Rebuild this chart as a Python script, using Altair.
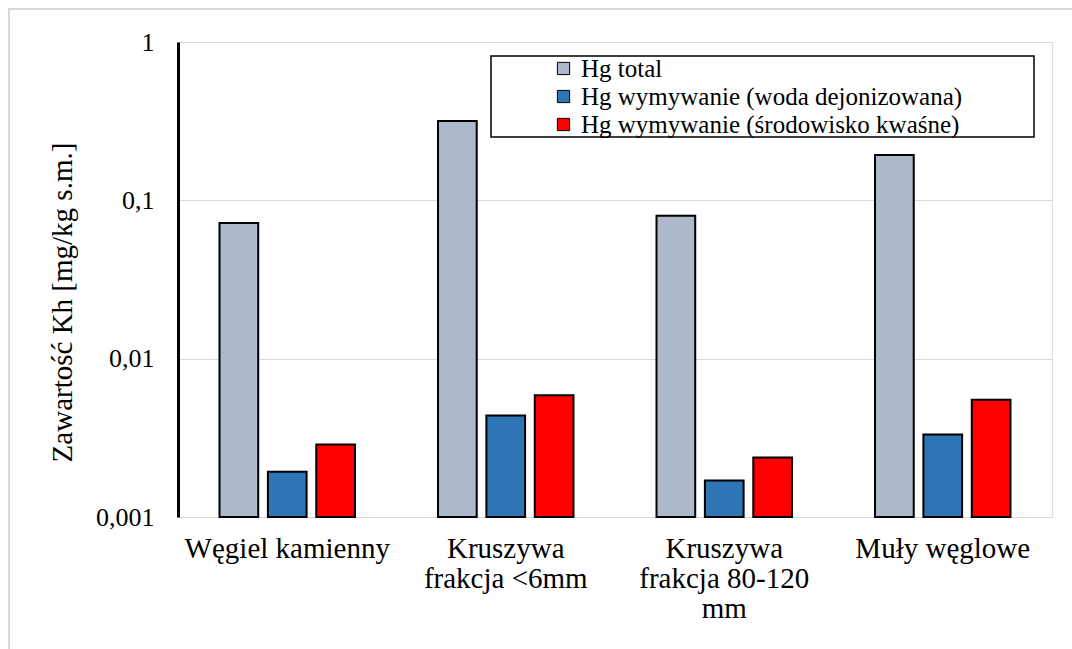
import altair as alt
import pandas as pd

# Categories (line breaks mark wrapped axis labels) and series
categories = [
    "Węgiel kamienny",
    "Kruszywa\nfrakcja <6mm",
    "Kruszywa\nfrakcja 80-120\nmm",
    "Muły węglowe",
]
series = [
    "Hg total",
    "Hg wymywanie (woda dejonizowana)",
    "Hg wymywanie (środowisko kwaśne)",
]
hg_total = [0.0718, 0.3175, 0.0798, 0.1936]
hg_water = [0.00193, 0.00437, 0.00170, 0.00332]
hg_acid = [0.00287, 0.00587, 0.00238, 0.00551]
colors = ["#ADB9CA", "#2E75B6", "#FF0000"]
y_ticks = [0.001, 0.01, 0.1, 1]

rows = []
for name, vals in zip(series, [hg_total, hg_water, hg_acid]):
    for cat, v in zip(categories, vals):
        rows.append({"kategoria": cat, "seria": name, "wartosc": v})
df = pd.DataFrame(rows)

FONT = "Times New Roman, Liberation Serif, DejaVu Serif, serif"
W, H = 874, 475

bars = alt.Chart(df).mark_bar(stroke="black", strokeWidth=2).encode(
    x=alt.X(
        "kategoria:N",
        sort=categories,
        scale=alt.Scale(paddingInner=0.38, paddingOuter=0.19),
        axis=alt.Axis(
            title=None,
            labelAngle=0,
            labelExpr="split(datum.label, '\\n')",
            labelFontSize=29,
            labelLineHeight=30,
            labelPadding=17,
            labelBaseline="top",
            labelLimit=0,
            ticks=False,
            domain=False,
            labelColor="black",
            labelFont=FONT,
        ),
    ),
    xOffset=alt.XOffset(
        "seria:N",
        sort=series,
        scale=alt.Scale(domain=series, paddingInner=0.2, paddingOuter=0),
    ),
    y=alt.Y(
        "wartosc:Q",
        stack=None,
        scale=alt.Scale(type="log", domain=[0.001, 1]),
        axis=alt.Axis(
            title="Zawartość Kh [mg/kg s.m.]",
            values=y_ticks,
            labelExpr="replace(format(datum.value, '~g'), '.', ',')",
            labelFontSize=26,
            labelPadding=24,
            labelColor="black",
            labelFont=FONT,
            ticks=False,
            domainColor="black",
            domainWidth=3,
            grid=True,
            gridColor="#D9D9D9",
            gridWidth=1,
            titleFont=FONT,
            titleFontSize=29,
            titleFontWeight="normal",
            titleColor="black",
            titleX=-116,
            titleY=260,
            titleAlign="center",
            titleBaseline="middle",
        ),
    ),
    color=alt.Color(
        "seria:N",
        sort=series,
        scale=alt.Scale(domain=series, range=colors),
        legend=alt.Legend(
            title=None,
            orient="none",
            legendX=313,
            legendY=12,
            padding=2,
            rowPadding=2,
            symbolOffset=58,
            symbolType="square",
            symbolSize=150,
            symbolStrokeColor="black",
            symbolStrokeWidth=1,
            labelOffset=5,
            labelFont=FONT,
            labelFontSize=25,
            labelColor="black",
            labelLimit=0,
        ),
    ),
)

# box behind the legend entries
legend_box = alt.Chart(alt.Data(values=[{}])).mark_rect(
    fill="white", stroke="black", strokeWidth=1.5
).encode(
    x=alt.value(313), x2=alt.value(856), y=alt.value(14), y2=alt.value(95)
)

# light outer frame around the whole figure
frame = alt.Chart(alt.Data(values=[{}])).mark_rect(
    fillOpacity=0, stroke="#D9D9D9", strokeWidth=2
).encode(
    x=alt.value(-169), x2=alt.value(1000), y=alt.value(-33), y2=alt.value(700)
)

chart = alt.layer(bars, legend_box, frame).properties(
    width=W,
    height=H,
    autosize=alt.AutoSizeParams(type="none"),
    padding={"left": 178, "top": 42, "right": 20, "bottom": 132},
    background="white",
).configure_view(
    stroke="black", strokeWidth=2
).configure(font=FONT)

chart.save("out.html", embed_options={"renderer": "svg", "actions": False})
